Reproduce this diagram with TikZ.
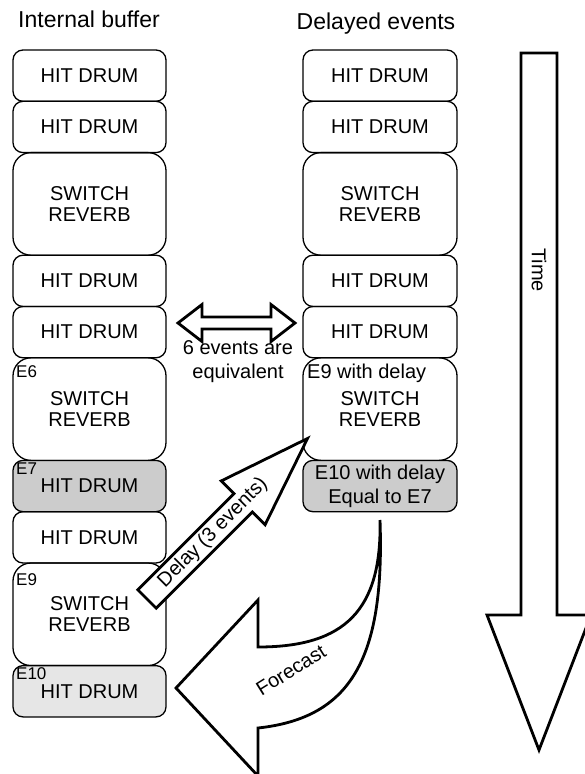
\documentclass[tikz,border=0pt]{standalone}
\usepackage{fontspec}
\setmainfont{Liberation Sans}
\usetikzlibrary{positioning}
\definecolor{grayA}{HTML}{CCCCCC}
\definecolor{grayB}{HTML}{E6E6E6}
\begin{document}
\begin{tikzpicture}[x=1pt,y=-1pt,
  box/.style={draw, line width=1.3pt, rounded corners=10pt, minimum width=153pt,
    minimum height=51.3pt, inner sep=0pt, outer sep=0pt, align=center,
    font=\fontsize{20}{21}\selectfont},
  rbox/.style={box, minimum width=154pt},
  tall/.style={minimum height=102.6pt, rounded corners=18pt},
  elabel/.style={anchor=base west, inner sep=0pt, font=\fontsize{17}{19}\selectfont},
  title/.style={anchor=base, inner sep=0pt, font=\fontsize{23}{26}\selectfont},
  label/.style={align=center, inner sep=0pt, font=\fontsize{20}{24}\selectfont},
  blockarrow/.style={draw, line width=2.8pt, fill=white, line join=miter}
]
\useasboundingbox (0,0) rectangle (584,774);

% titles
\node[title] (t1) at (89,27) {Internal buffer};
\node[title] (t2) at (376,29) {Delayed events};

% left column
\node[box, anchor=north] (l1) at (89.5,50) {HIT DRUM};
\node[box, below=0pt of l1] (l2) {HIT DRUM};
\node[box, tall, below=0pt of l2] (l3) {SWITCH\\REVERB};
\node[box, below=0pt of l3] (l4) {HIT DRUM};
\node[box, below=0pt of l4] (l5) {HIT DRUM};
\node[box, tall, below=0pt of l5] (l6) {SWITCH\\REVERB};
\node[box, fill=grayA, below=0pt of l6] (l7) {HIT DRUM};
\node[box, below=0pt of l7] (l8) {HIT DRUM};
\node[box, tall, below=0pt of l8] (l9) {SWITCH\\REVERB};
\node[box, fill=grayB, below=0pt of l9] (l10) {HIT DRUM};

\node[elabel] (e6) at (16,377) {E6};
\node[elabel] (e7) at (16,474) {E7};
\node[elabel] (e9) at (16,585) {E9};
\node[elabel] (e10) at (16,679) {E10};

% right column
\node[rbox, anchor=north] (r1) at (380,50) {HIT DRUM};
\node[rbox, below=0pt of r1] (r2) {HIT DRUM};
\node[rbox, tall, below=0pt of r2] (r3) {SWITCH\\REVERB};
\node[rbox, below=0pt of r3] (r4) {HIT DRUM};
\node[rbox, below=0pt of r4] (r5) {HIT DRUM};
\node[rbox, tall, below=0pt of r5] (r6) {SWITCH\\REVERB};
\node[rbox, fill=grayA, below=0pt of r6, font=\fontsize{20}{24}\selectfont] (r7) {E10 with delay\\Equal to E7};
\node[anchor=base west, inner sep=0pt, font=\fontsize{20}{24}\selectfont] (e9d) at (307,378) {E9 with delay};

% double arrow "6 events are equivalent"
\draw[blockarrow] (178,323) -- (202,304.5) -- (202,317) -- (271,317) -- (271,304.5)
  -- (295,323) -- (271,341.5) -- (271,329) -- (202,329) -- (202,341.5) -- cycle;
\node[label] (eq) at (238,362) {6 events are\\equivalent};

% delay arrow
\draw[blockarrow] (137.8,589.8) -- (234.0,493.6) -- (221.3,480.9) -- (307.5,438.5)
  -- (265.1,524.7) -- (252.4,512.0) -- (156.2,608.2) -- cycle;
\node[label, rotate=45] (delay) at (213,533) {Delay (3 events)};

% forecast arrow
\draw[blockarrow] (380,520) .. controls (382,610) and (345,647) .. (258,647)
  -- (258,600) -- (176,688) -- (258,776) -- (258,728)
  .. controls (350,718) and (385,660) .. (380,520) -- cycle;
\node[label, rotate=32] (fc) at (291,670) {Forecast};

% time arrow
\draw[blockarrow] (521,53) -- (557,53) -- (557,615) -- (591,615) -- (539,750)
  -- (487,615) -- (521,615) -- cycle;
\node[label, rotate=-90] (time) at (539,270) {Time};
\end{tikzpicture}
\end{document}
